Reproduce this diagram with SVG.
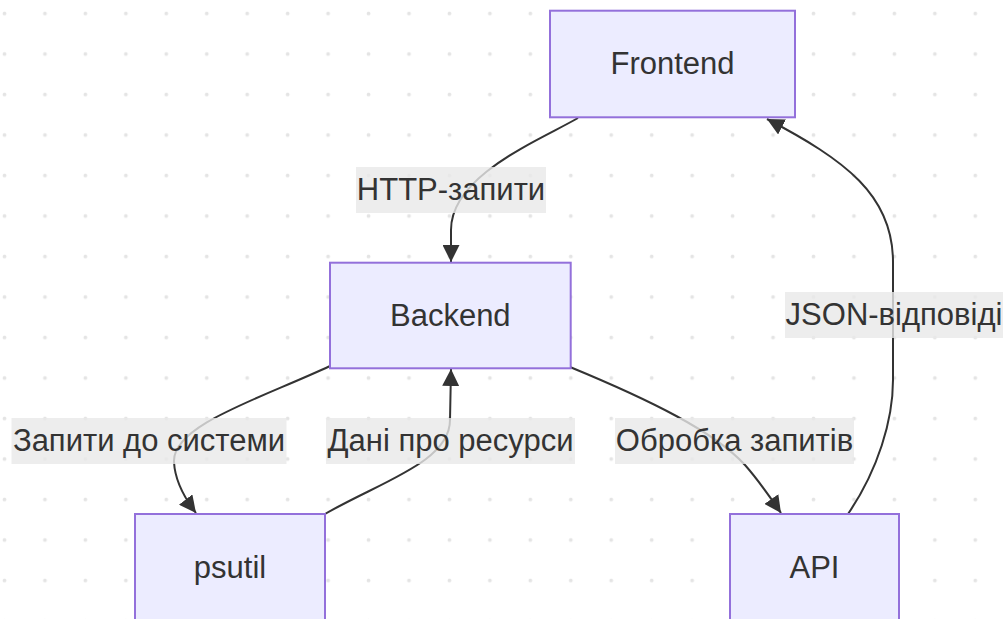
<svg xmlns="http://www.w3.org/2000/svg" width="1008" height="619" viewBox="0 0 1008 619">
<style>
.node rect{fill:#ECECFF;stroke:#9370DB;stroke-width:2}
.t{font-family:"Liberation Sans",Arial,sans-serif;font-size:31px;fill:#333;text-anchor:middle}
.edge{fill:none;stroke:#333;stroke-width:2;marker-end:url(#arrow)}
.lbl rect{fill:#e8e8e8;opacity:0.8}
</style>
<defs>
<pattern id="dots" patternUnits="userSpaceOnUse" x="0" y="0" width="40.45" height="40.5">
<circle cx="4.5" cy="13.5" r="1.9" fill="#e4e4e4"/>
</pattern>
<marker id="arrow" viewBox="0 0 10 10" refX="10" refY="5" markerUnits="userSpaceOnUse" markerWidth="17" markerHeight="17" orient="auto">
<path d="M0,0 L10,5 L0,10 z" fill="#333"/>
</marker>
</defs>
<rect width="1008" height="619" fill="#fff"/>
<rect width="1008" height="619" fill="url(#dots)"/>
<g id="connectors">
<path class="edge" d="M578,118 C540,140 451,175 451,230 L451,262"/>
<path class="edge" d="M330,366 C262,398 172,425 174,462 C175,482 186,500 196,513"/>
<path class="edge" d="M325,514 C380,482 450,462 450,420 L451,369"/>
<path class="edge" d="M570,367 C650,400 715,432 745,465 C760,482 772,500 781,513"/>
<path class="edge" d="M848,514 C878,470 893,420 893,380 L893,262 C893,195 845,160 767,119"/>
<g class="lbl">
<rect x="356" y="167" width="190" height="46"/>
<text class="t" x="451" y="199.5">HTTP-запити</text>
<rect x="11.5" y="418" width="275" height="46"/>
<text class="t" x="149" y="450.5">Запити до системи</text>
<rect x="326" y="418" width="249" height="46"/>
<text class="t" x="450.5" y="450.5">Дані про ресурси</text>
<rect x="615" y="418" width="239" height="46"/>
<text class="t" x="734.5" y="450.5">Обробка запитів</text>
<rect x="785" y="292" width="218" height="46"/>
<text class="t" x="894" y="324.5">JSON-відповіді</text>
</g>
</g>
<g id="Frontend" class="node">
<rect x="550" y="10.7" width="245" height="106.6"/>
<text class="t" x="672.5" y="74">Frontend</text>
</g>
<g id="Backend" class="node">
<rect x="330" y="262.7" width="240.7" height="105.6"/>
<text class="t" x="450.3" y="326">Backend</text>
</g>
<g id="psutil" class="node">
<rect x="135" y="514" width="190" height="106"/>
<text class="t" x="230" y="577.5">psutil</text>
</g>
<g id="API" class="node">
<rect x="730" y="514" width="169" height="106"/>
<text class="t" x="814.5" y="577.5">API</text>
</g>
</svg>
